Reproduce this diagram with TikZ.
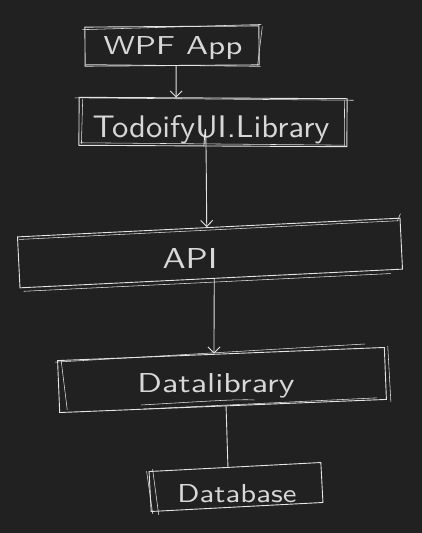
\documentclass[tikz,border=0pt]{standalone}
\usetikzlibrary{arrows.meta}
\usepackage{graphicx}
\definecolor{bg}{HTML}{212121}
\definecolor{ink}{HTML}{E4E4E4}
\definecolor{txt}{HTML}{D8D8D8}
\begin{document}
\begin{tikzpicture}[x=1pt,y=-1pt,
  box/.style={draw=ink, line width=0.9pt, inner sep=0pt},
  lbl/.style={text=txt, font=\sffamily, inner sep=0pt, anchor=base},
  arr/.style={draw=ink, line width=0.9pt, -{Straight Barb[length=6pt,width=12pt]}},
  link/.style={draw=ink, line width=0.9pt},
  sk/.style={draw=ink, line width=0.55pt}]
\fill[bg] (0,0) rectangle (422,533);
\useasboundingbox (0,0) rectangle (422,533);
% boxes
\node[box, minimum width=174pt, minimum height=39pt, rotate=0.4] (wpf) at (172,46) {};
\node[box, minimum width=268pt, minimum height=48pt, rotate=-0.3] (todo) at (213,122) {};
\node[box, minimum width=383pt, minimum height=51pt, rotate=2.8] (api) at (210,253) {};
\node[box, minimum width=327pt, minimum height=52pt, rotate=2.3] (dl) at (222,380) {};
\node[box, minimum width=172pt, minimum height=40pt, rotate=3] (db) at (236,487) {};
% labels
\node[lbl] (wpft) at (173,54) {\resizebox{139pt}{18pt}{WPF App}};
\node[lbl] (todot) at (211,137) {\resizebox{237pt}{22pt}{TodoifyUI.Library}};
\node[lbl] (apit) at (190,268) {\resizebox{55pt}{20pt}{API}};
\node[lbl] (dlt) at (216,392) {\resizebox{157pt}{19pt}{Datalibrary}};
\node[lbl] (dbt) at (237,502) {\resizebox{119pt}{18pt}{Database}};
% sketchy second strokes
\draw[sk] ([shift={(-2,3)}]wpf.north west) -- ([shift={(2,-1)}]wpf.north east);
\draw[sk] ([shift={(1,-2)}]wpf.south west) -- ([shift={(1,1)}]wpf.south east);
\draw[sk] ([shift={(3,1)}]wpf.north east) -- ([shift={(-2,0)}]wpf.south east);
\draw[sk] ([shift={(-4,1)}]todo.north west) -- ([shift={(6,2)}]todo.north east);
\draw[sk] ([shift={(2,-3)}]todo.south west) -- ([shift={(-2,-2)}]todo.south east);
\draw[sk] ([shift={(4,2)}]todo.north west) -- ([shift={(3,-2)}]todo.south west);
\draw[sk] ([shift={(-3,2)}]todo.north east) -- ([shift={(-3,-1)}]todo.south east);
\draw[sk] ([shift={(2,3)}]api.north west) -- ([shift={(-2,3)}]api.north east);
\draw[sk] ([shift={(4,3)}]api.south west) -- ([shift={(-12,4)}]api.south east);
\draw[sk] ([shift={(0,-4)}]api.north east) -- ([shift={(-3,3)}]api.north east);
\draw[sk] ([shift={(-2,2)}]dl.north west) -- ([shift={(-20,-3)}]dl.north east);
\draw[sk] ([shift={(4,0)}]dl.north west) -- ([shift={(8,-3)}]dl.south west);
\draw[sk] ([shift={(85,-4)}]dl.south west) -- ([shift={(-10,-2)}]dl.south east);
\draw[sk] ([shift={(82,-8)}]dl.south west) .. controls ([shift={(150,-12)}]dl.south west) and ([shift={(180,-14)}]dl.south west) .. ([shift={(195,-13)}]dl.south west);
\draw[sk] ([shift={(3,-1)}]dl.north east) -- ([shift={(4,2)}]dl.south east);
\draw[sk] ([shift={(4,-2)}]db.north west) -- ([shift={(8,3)}]db.south west);
\draw[sk] ([shift={(-2,0)}]db.north west) -- ([shift={(2,2)}]db.south west);
% connectors
\draw[arr] ([xshift=4pt]wpf.south) -- ([xshift=-37pt]todo.north);
\draw[arr] ([xshift=-9pt]todo.south) .. controls ([xshift=-7pt,yshift=30pt]todo.south) .. ([xshift=-2pt]api.north);
\draw[arr] ([xshift=3pt]api.south) -- ([xshift=-7pt]dl.north);
\draw[link] ([xshift=3pt]dl.south) -- ([xshift=-7pt]db.north);
\end{tikzpicture}
\end{document}
